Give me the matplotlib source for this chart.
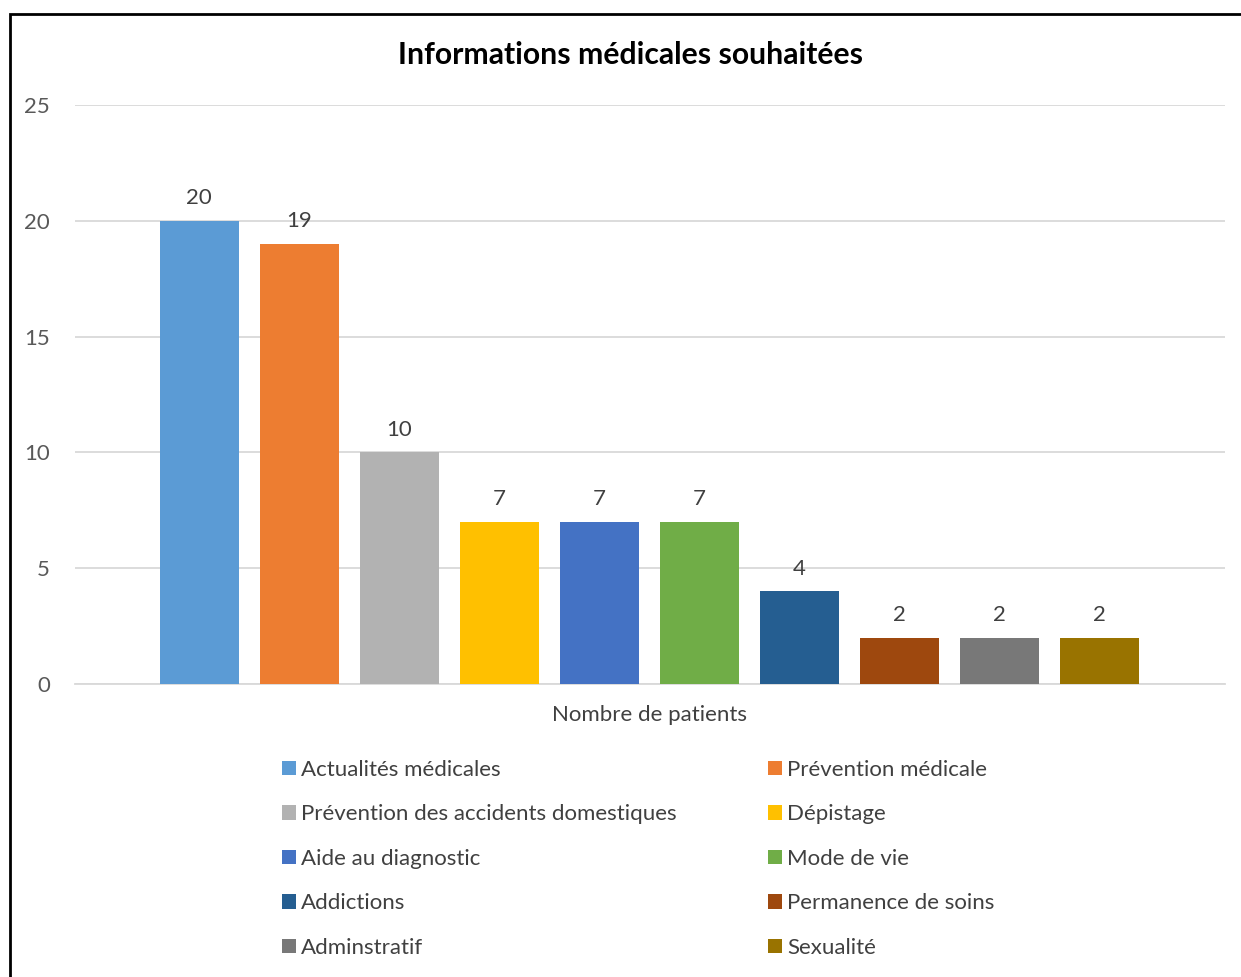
import numpy as np
import matplotlib.pyplot as plt
from matplotlib.patches import Patch, Rectangle

plt.rcParams['font.family'] = ['Lato', 'DejaVu Sans']

categories = ["Actualités médicales", "Prévention médicale",
              "Prévention des accidents domestiques", "Dépistage",
              "Aide au diagnostic", "Mode de vie", "Addictions",
              "Permanence de soins", "Adminstratif", "Sexualité"]
patients = [20, 19, 10, 7, 7, 7, 4, 2, 2, 2]
colors = ["#5B9BD5", "#ED7D31", "#B2B2B2", "#FFC000", "#4472C4",
          "#70AD47", "#255E91", "#9E480E", "#787878", "#997300"]

W, H = 1241, 977
fig = plt.figure(figsize=(W / 100, H / 100), dpi=100)
ax = fig.add_axes([75 / W, 1 - 684 / H, 1150 / W, (684 - 105) / H])

x = np.arange(len(patients))
bars = ax.bar(x, patients, width=0.79, color=colors, zorder=3)
for xi, v in zip(x, patients):
    ax.text(xi, v + 0.55, str(v), ha='center', va='bottom',
            fontsize=16, color='#404040')

ax.set_xlim(-1.24, 10.26)
ax.set_ylim(0, 25)
ax.set_yticks([0, 5, 10, 15, 20, 25])
ax.set_xticks([])
ax.tick_params(axis='y', length=0, pad=18, labelsize=16, labelcolor='#595959')
ax.grid(axis='y', color='#D9D9D9', linewidth=1.3, zorder=0)
for s in ['top', 'right', 'left']:
    ax.spines[s].set_visible(False)
ax.spines['bottom'].set_color('#D9D9D9')
ax.spines['bottom'].set_linewidth(1.3)

fig.text(649 / W, 1 - 715 / H, "Nombre de patients", ha='center', va='center',
         fontsize=16, color='#404040')
fig.text(631 / W, 1 - 55 / H, "Informations médicales souhaitées",
         ha='center', va='center', fontsize=21.7, fontweight='bold', color='black')

# legend, filled row by row like the original
handles = [Patch(facecolor=c, label=l) for c, l in zip(colors, categories)]
order = [0, 2, 4, 6, 8, 1, 3, 5, 7, 9]
fig.legend([handles[i] for i in order], [categories[i] for i in order],
           ncol=2, loc='upper left', bbox_to_anchor=(282 / W, 1 - 760 / H),
           bbox_transform=fig.transFigure, frameon=False, fontsize=16,
           labelcolor='#404040', handlelength=0.63, handleheight=0.63,
           handletextpad=0.23, columnspacing=4.1, labelspacing=1.1,
           borderpad=0, borderaxespad=0)

# outer frame
fig.patches.append(Rectangle((9.5 / W, -0.05), 1.2, 1 - 13.5 / H + 0.05,
                             transform=fig.transFigure, fill=False,
                             edgecolor='black', linewidth=2))

fig.savefig('out.png', dpi=100)
